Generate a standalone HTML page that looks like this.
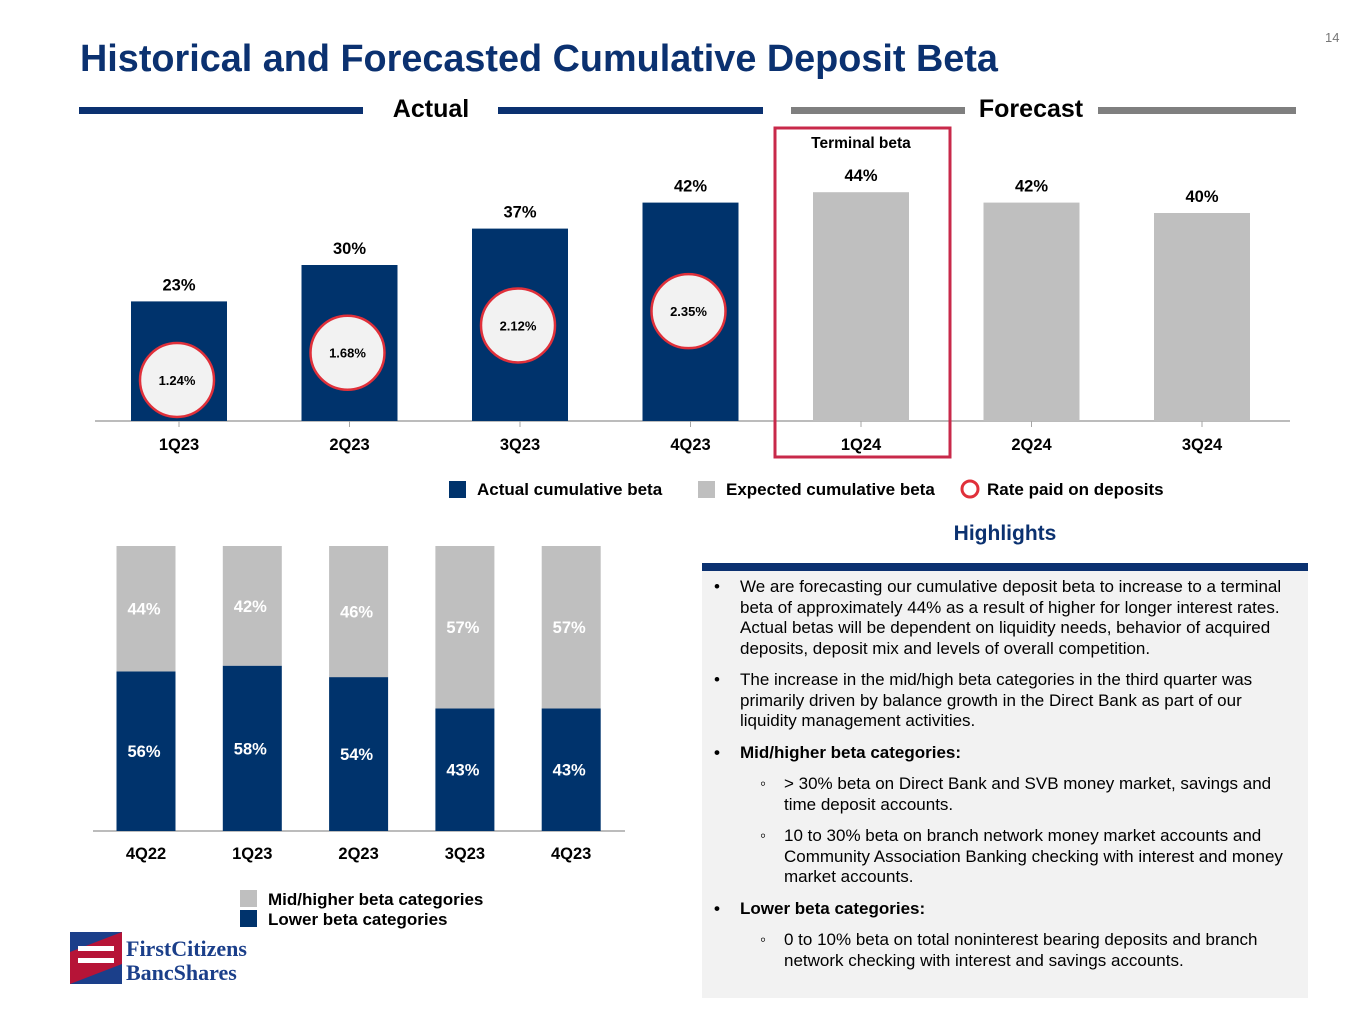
<!DOCTYPE html>
<html><head><meta charset="utf-8"><style>
body{margin:0;width:1365px;height:1024px;background:#fff;font-family:"Liberation Sans",Arial,sans-serif;position:relative;overflow:hidden}
.abs{position:absolute}
.t{font-weight:bold}
ul{margin:0;padding:0;list-style:none}
.hl{font-size:17px;line-height:20.5px;color:#000}
.hl li{position:relative;padding-left:38px;margin-bottom:11px}
.hl li:before{content:"•";position:absolute;left:12px}
.hl li.sub{padding-left:82px}
.hl li.sub:before{content:"◦";left:58px}
</style></head><body>
<div class="abs" style="left:1325px;top:30px;font-size:13px;color:#777">14</div>
<div class="abs t" style="left:80px;top:38px;font-size:37.8px;color:#0b3170">Historical and Forecasted Cumulative Deposit Beta</div>
<svg class="abs" style="left:0;top:0" width="1365" height="1024">
<g id="topg"></g><g id="botg"></g>
</svg>
<div class="abs t" style="left:702px;width:606px;top:522px;text-align:center;font-size:21px;color:#0b3170">Highlights</div>
<div class="abs" style="left:702px;top:563px;width:606px;height:435px;background:#f2f2f2;border-top:8px solid #0b3170;box-sizing:border-box"></div>
<ul class="abs hl" style="left:702px;top:577px;width:592px">
<li>We are forecasting our cumulative deposit beta to increase to a terminal beta of approximately 44% as a result of higher for longer interest rates. Actual betas will be dependent on liquidity needs, behavior of acquired deposits, deposit mix and levels of overall competition.</li>
<li>The increase in the mid/high beta categories in the third quarter was primarily driven by balance growth in the Direct Bank as part of our liquidity management activities.</li>
<li class="t">Mid/higher beta categories:</li>
<li class="sub">&gt; 30% beta on Direct Bank and SVB money market, savings and time deposit accounts.</li>
<li class="sub">10 to 30% beta on branch network money market accounts and Community Association Banking checking with interest and money market accounts.</li>
<li class="t">Lower beta categories:</li>
<li class="sub">0 to 10% beta on total noninterest bearing deposits and branch network checking with interest and savings accounts.</li>
</ul>
<svg class="abs" style="left:70px;top:932px" width="200" height="55">
<rect x="0" y="0" width="52" height="52" fill="#1b3f8a"/>
<polygon points="0,52 0,20 52,0 52,32" fill="#c8102e" opacity="0.9"/>
<rect x="8" y="14" width="36" height="5" fill="#fff"/><rect x="8" y="26" width="36" height="5" fill="#fff"/>
<text x="56" y="24" font-family="Liberation Serif,serif" font-size="22" font-weight="bold" fill="#1b3f8a">FirstCitizens</text>
<text x="56" y="48" font-family="Liberation Serif,serif" font-size="22" font-weight="bold" fill="#1b3f8a">BancShares</text>
</svg>
<script>
const topCats=["1Q23","2Q23","3Q23","4Q23","1Q24","2Q24","3Q24"];
const topBeta=[23,30,37,42,44,42,40];
const topActual=[true,true,true,true,false,false,false];
const rates=[1.24,1.68,2.12,2.35];
const botCats=["4Q22","1Q23","2Q23","3Q23","4Q23"];
const lowerBeta=[56,58,54,43,43];
const higherBeta=[44,42,46,57,57];
const NS="http://www.w3.org/2000/svg";
function mk(p,tag,a,txt){const e=document.createElementNS(NS,tag);for(const k in a)e.setAttribute(k,a[k]);if(txt!=null)e.textContent=txt;p.appendChild(e);return e;}
const tg=document.getElementById('topg'),bg=document.getElementById('botg');
const NAVY="#00336c",GRAY="#bfbfbf";
mk(tg,'rect',{x:79,y:107,width:284,height:7,fill:"#0b3170"});
mk(tg,'rect',{x:498,y:107,width:265,height:7,fill:"#0b3170"});
mk(tg,'rect',{x:791,y:107,width:174,height:7,fill:"#7f7f7f"});
mk(tg,'rect',{x:1098,y:107,width:198,height:7,fill:"#7f7f7f"});
let e=mk(tg,'text',{x:431,y:117,'text-anchor':'middle','font-size':25,'font-weight':'bold'},"Actual");


e=mk(tg,'text',{x:1031,y:117,'text-anchor':'middle','font-size':25,'font-weight':'bold'},"Forecast");


const base=421,ppp=5.2,x0=179,dx=170.5,bw=96;
const xT=i=>x0+i*dx, yT=v=>base-v*ppp, yR=r=>380-(r-1.24)*62;
mk(tg,'line',{x1:95,x2:1290,y1:base,y2:base,stroke:"#a6a6a6",'stroke-width':1.5});
topCats.forEach((c,i)=>{
 const b=mk(tg,'rect',{x:xT(i)-bw/2,y:yT(topBeta[i]),width:bw,height:topBeta[i]*ppp,fill:topActual[i]?NAVY:GRAY});
 
 
 mk(tg,'line',{x1:xT(i),x2:xT(i),y1:base,y2:base+6,stroke:"#a6a6a6"});
 mk(tg,'text',{x:xT(i),y:yT(topBeta[i])-11,'text-anchor':'middle','font-size':16.5,'font-weight':'bold'},topBeta[i]+"%");
 mk(tg,'text',{x:xT(i),y:450,'text-anchor':'middle','font-size':16.5,'font-weight':'bold'},c);
});
rates.forEach((r,i)=>{
 const g=mk(tg,'g',{});
 
 
 mk(g,'circle',{cx:xT(i)-2,cy:yR(r),r:37,fill:"#f2f2f2",stroke:"#e0303a",'stroke-width':2.5});
 mk(g,'text',{x:xT(i)-2,y:yR(r)+5,'text-anchor':'middle','font-size':13,'font-weight':'bold'},r.toFixed(2)+"%");
});
e=mk(tg,'rect',{x:775,y:128,width:175,height:329,fill:"none",stroke:"#c8294a",'stroke-width':3});


mk(tg,'text',{x:861,y:148,'text-anchor':'middle','font-size':15.5,'font-weight':'bold'},"Terminal beta");
const lg=mk(tg,'g',{});


mk(lg,'rect',{x:449,y:481,width:17,height:17,fill:NAVY});
mk(lg,'text',{x:477,y:495,'font-size':17,'font-weight':'bold'},"Actual cumulative beta");
mk(lg,'rect',{x:698,y:481,width:17,height:17,fill:GRAY});
mk(lg,'text',{x:726,y:495,'font-size':17,'font-weight':'bold'},"Expected cumulative beta");
mk(lg,'circle',{cx:970,cy:489,r:8,fill:"none",stroke:"#e0303a",'stroke-width':3});
mk(lg,'text',{x:987,y:495,'font-size':17,'font-weight':'bold'},"Rate paid on deposits");
const bb=831,bp=2.85,bx0=146,bdx=106.3,bbw=59;
const xB=i=>bx0+i*bdx;
mk(bg,'line',{x1:93,x2:625,y1:bb,y2:bb,stroke:"#a6a6a6",'stroke-width':1.5});
botCats.forEach((c,i)=>{
 const lo=lowerBeta[i],hi=higherBeta[i];
 const r1=mk(bg,'rect',{x:xB(i)-bbw/2,y:bb-lo*bp,width:bbw,height:lo*bp,fill:NAVY});
 
 
 const r2=mk(bg,'rect',{x:xB(i)-bbw/2,y:bb-(lo+hi)*bp,width:bbw,height:hi*bp,fill:GRAY});
 
 
 mk(bg,'text',{x:xB(i)-2,y:bb-lo*bp/2+6,'text-anchor':'middle','font-size':16.5,'font-weight':'bold',fill:"#fff"},lo+"%");
 mk(bg,'text',{x:xB(i)-2,y:bb-lo*bp-hi*bp/2+6,'text-anchor':'middle','font-size':16.5,'font-weight':'bold',fill:"#fff"},hi+"%");
 mk(bg,'text',{x:xB(i),y:859,'text-anchor':'middle','font-size':16.5,'font-weight':'bold'},c);
});
const lg2=mk(bg,'g',{});


mk(lg2,'rect',{x:240,y:890,width:17,height:17,fill:GRAY});
mk(lg2,'text',{x:268,y:905,'font-size':17,'font-weight':'bold'},"Mid/higher beta categories");
mk(lg2,'rect',{x:240,y:910,width:17,height:17,fill:NAVY});
mk(lg2,'text',{x:268,y:925,'font-size':17,'font-weight':'bold'},"Lower beta categories");
</script>
</body></html>
